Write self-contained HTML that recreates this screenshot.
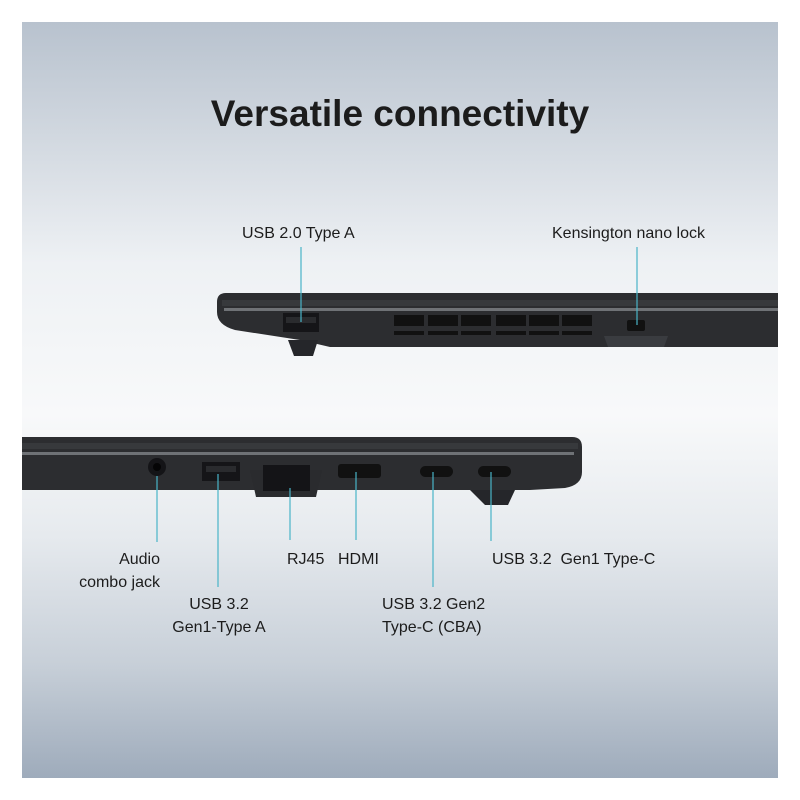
<!DOCTYPE html>
<html><head><style>
html,body{margin:0;padding:0;background:#fff;}
.p{position:absolute;left:22px;top:22px;width:756px;height:756px;background:linear-gradient(to bottom,#b8c2ce 0%,#d6dce3 18%,#eef1f4 32%,#f8f9fa 52%,#e6eaee 68%,#c7cfd8 85%,#9eabbb 100%);overflow:hidden;}
svg{position:absolute;left:0;top:0;}
text{font-family:"Liberation Sans",sans-serif;fill:#1c1c1c;}
</style></head><body>
<div class="p"></div>
<svg width="800" height="800" viewBox="0 0 800 800">
<text x="400" y="126" text-anchor="middle" font-size="37" font-weight="bold" fill="#111">Versatile connectivity</text>
<!-- top laptop -->
<path d="M226 293 H778 V347 H330 L300 340 L235 330 Q217 325 217 312 V302 Q217 293 226 293Z" fill="#2c2d30"/>
<rect x="224" y="308" width="554" height="3" fill="#6f7276"/>
<path d="M222 300 H778 V306 H222Z" fill="#37393c"/>
<path d="M288 340 H318 L313 356 H294Z" fill="#25262a"/>
<rect x="283" y="313" width="36" height="19" fill="#151518"/>
<rect x="286" y="317" width="30" height="6" fill="#2a2b2e"/>
<g fill="#111">
<rect x="394" y="315" width="30" height="11"/><rect x="428" y="315" width="30" height="11"/><rect x="461" y="315" width="30" height="11"/>
<rect x="496" y="315" width="30" height="11"/><rect x="529" y="315" width="30" height="11"/><rect x="562" y="315" width="30" height="11"/>
<rect x="394" y="331" width="30" height="4"/><rect x="428" y="331" width="30" height="4"/><rect x="461" y="331" width="30" height="4"/>
<rect x="496" y="331" width="30" height="4"/><rect x="529" y="331" width="30" height="4"/><rect x="562" y="331" width="30" height="4"/>
</g>
<path d="M604 336 H668 L664 347 H608Z" fill="#3a3c40"/>
<rect x="627" y="320" width="18" height="11" rx="2" fill="#111"/>
<line x1="301" y1="247" x2="301" y2="322" stroke="#49b4c8" stroke-width="1.2"/>
<line x1="637" y1="247" x2="637" y2="325" stroke="#49b4c8" stroke-width="1.2"/>
<text x="242" y="238" font-size="16">USB 2.0 Type A</text>
<text x="552" y="238" font-size="16">Kensington nano lock</text>
<!-- bottom laptop -->
<path d="M22 437 H572 Q582 437 582 447 V472 Q582 485 565 488 L530 490 H22Z" fill="#2c2d30"/>
<rect x="22" y="452" width="552" height="3" fill="#6f7276"/>
<rect x="22" y="443" width="556" height="6" fill="#37393c"/>
<path d="M470 490 H515 L508 505 H485Z" fill="#25262a"/>
<path d="M250 470 H322 L316 497 H256Z" fill="#2a2b2e"/>
<circle cx="157" cy="467" r="9" fill="#141417"/><circle cx="157" cy="467" r="4" fill="#050506"/>
<rect x="202" y="462" width="38" height="19" fill="#151518"/>
<rect x="206" y="466" width="30" height="6" fill="#2a2b2e"/>
<path d="M263 465 H310 V491 H263Z" fill="#141417"/>
<rect x="338" y="464" width="43" height="14" rx="3" fill="#111"/>
<rect x="420" y="466" width="33" height="11" rx="5.5" fill="#111"/>
<rect x="478" y="466" width="33" height="11" rx="5.5" fill="#111"/>
<g stroke="#49b4c8" stroke-width="1.2">
<line x1="157" y1="476" x2="157" y2="542"/>
<line x1="218" y1="474" x2="218" y2="587"/>
<line x1="290" y1="488" x2="290" y2="540"/>
<line x1="356" y1="472" x2="356" y2="540"/>
<line x1="433" y1="472" x2="433" y2="587"/>
<line x1="491" y1="472" x2="491" y2="541"/>
</g>
<g font-size="16">
<text x="160" y="564" text-anchor="end">Audio</text>
<text x="160" y="587" text-anchor="end">combo jack</text>
<text x="219" y="609" text-anchor="middle">USB 3.2</text>
<text x="219" y="632" text-anchor="middle">Gen1-Type A</text>
<text x="287" y="564">RJ45</text>
<text x="338" y="564">HDMI</text>
<text x="382" y="609">USB 3.2 Gen2</text>
<text x="382" y="632">Type-C (CBA)</text>
<text x="492" y="564" xml:space="preserve">USB 3.2  Gen1 Type-C</text>
</g>
</svg>
</body></html>
